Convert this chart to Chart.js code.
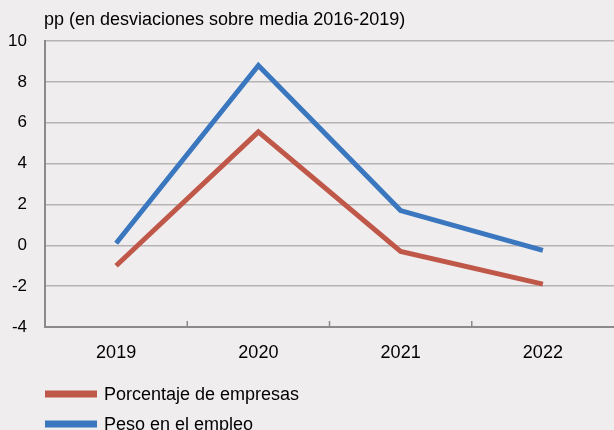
<!DOCTYPE html>
<html>
<head>
<meta charset="utf-8">
<script src="https://cdn.jsdelivr.net/npm/chart.js@4/dist/chart.umd.min.js"></script>
<style>
  html, body { margin: 0; padding: 0; background: #efedee; }
  #wrap { width: 614px; height: 430px; position: relative; }
</style>
</head>
<body>
<div id="wrap"><canvas id="grafico"></canvas></div>
<script>
const anios = ['2019', '2020', '2021', '2022'];
const porcentajeEmpresas = [-1.0, 5.55, -0.3, -1.9];
const pesoEmpleo = [0.1, 8.8, 1.7, -0.25];
const tituloEje = 'pp (en desviaciones sobre media 2016-2019)';

const fuente = '"Liberation Sans", Arial, sans-serif';

// titulo, marcas internas del eje x y leyenda
const extras = {
    id: 'extras',
    afterDraw(chart) {
        const ctx = chart.ctx;
        const area = chart.chartArea;
        const x = chart.scales.x;
        ctx.save();
        ctx.fillStyle = '#000';
        ctx.font = '18px ' + fuente;
        ctx.textBaseline = 'middle';
        ctx.fillText(tituloEje, 44, 20);

        ctx.strokeStyle = '#8a8a8a';
        ctx.lineWidth = 1.5;
        for (let i = 0; i < anios.length - 1; i++) {
            const px = (x.getPixelForValue(i) + x.getPixelForValue(i + 1)) / 2;
            ctx.beginPath();
            ctx.moveTo(px, area.bottom);
            ctx.lineTo(px, area.bottom - 6);
            ctx.stroke();
        }

        ctx.font = '18px ' + fuente;
        chart.data.datasets.forEach((ds, i) => {
            const y = 394 + i * 30;
            ctx.strokeStyle = ds.borderColor;
            ctx.lineWidth = 7;
            ctx.lineCap = 'butt';
            ctx.beginPath();
            ctx.moveTo(45, y);
            ctx.lineTo(97, y);
            ctx.stroke();
            ctx.fillStyle = '#000';
            ctx.fillText(ds.label, 104, y + 1);
        });
        ctx.restore();
    }
};

new Chart(document.getElementById('grafico'), {
    type: 'line',
    data: {
        labels: anios,
        datasets: [{
            label: 'Porcentaje de empresas',
            data: porcentajeEmpresas,
            borderColor: '#c0584a',
            borderWidth: 5,
            pointRadius: 0,
            tension: 0
        }, {
            label: 'Peso en el empleo',
            data: pesoEmpleo,
            borderColor: '#3a77bf',
            borderWidth: 5,
            pointRadius: 0,
            tension: 0
        }]
    },
    options: {
        responsive: true,
        maintainAspectRatio: false,
        animation: false,
        layout: { padding: { top: 41, right: 0, left: 0, bottom: 0 } },
        plugins: {
            legend: { display: false },
            tooltip: { enabled: false }
        },
        scales: {
            x: {
                offset: true,
                grid: { display: false, drawTicks: false },
                border: { color: '#8a8a8a', width: 2 },
                ticks: { color: '#000', font: { family: fuente, size: 18 }, padding: 15, maxRotation: 0 },
                afterFit(scale) { scale.height = 103; }
            },
            y: {
                min: -4,
                max: 10,
                grid: { color: '#b5b3b4', lineWidth: 1.5, drawTicks: false },
                border: { color: '#8a8a8a', width: 2 },
                ticks: { stepSize: 2, color: '#000', font: { family: fuente, size: 17 }, padding: 18 },
                afterFit(scale) { scale.width = 45; }
            }
        }
    },
    plugins: [extras]
});
</script>
</body>
</html>
